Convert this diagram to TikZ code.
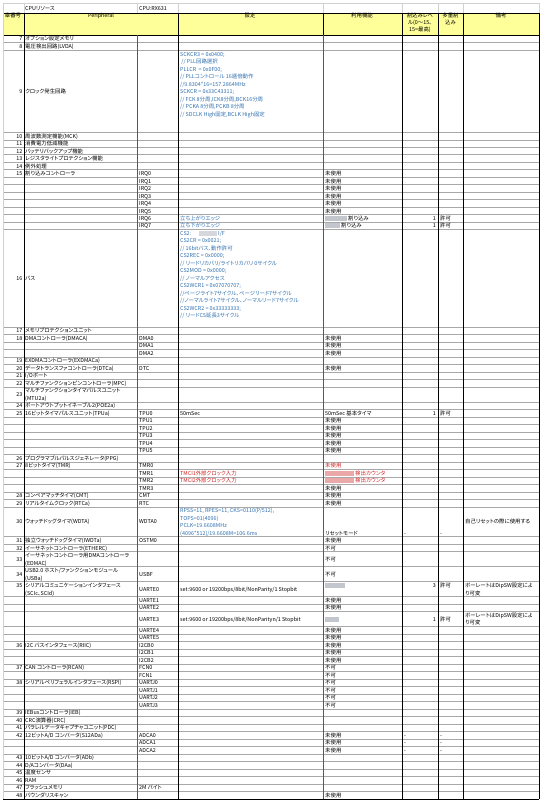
\documentclass[tikz,border=0pt]{standalone}
\usepackage{fontspec}
\setmainfont{Noto Sans CJK JP}[RawFeature=+palt]
\definecolor{setblue}{HTML}{2F6FAF}
\definecolor{redtxt}{HTML}{D02020}
\definecolor{hdryellow}{HTML}{FFFF99}
\definecolor{gridgray}{HTML}{A8A8A8}
\definecolor{blurgray}{HTML}{C4C6CE}
\definecolor{blurpink}{HTML}{EBA8A8}
\tikzset{
  txt/.style={inner sep=0pt, font=\fontsize{5.4}{6}\selectfont},
  bluetxt/.style={txt, text=setblue},
  redstyle/.style={txt, text=redtxt},
  hline/.style={draw=gridgray, line width=0.7pt},
  vline/.style={draw=black, line width=0.8pt},
  vgray/.style={draw=black!65, line width=0.8pt},
  lightline/.style={draw=black!18, line width=0.5pt},
}
\def\P{7.49}
\newcounter{nn}
\newcommand\txtL[4][txt]{\stepcounter{nn}\node[#1,anchor=base west] (t\arabic{nn}) at (#2,{35+(#3+0.5)*\P+2}) {#4};}
\newcommand\txtR[4][txt]{\stepcounter{nn}\node[#1,anchor=base east] (t\arabic{nn}) at (#2,{35+(#3+0.5)*\P+2}) {#4};}
\newcommand\blurbox[4][blurgray]{\fill[#1] (#2,{35+(#4+0.5)*\P-2.6}) rectangle (#3,{35+(#4+0.5)*\P+2.4});}
\begin{document}
\begin{tikzpicture}[x=1pt,y=-1pt]
\useasboundingbox (0,0) rectangle (543,800);
% top row light grid
\foreach \x in {3,24,137,178,323,402,438,463,539} \draw[lightline] (\x,3) -- (\x,13);
\draw[lightline] (3,3) -- (539,3);
% header
\fill[hdryellow] (3,13) rectangle (539,35);
\draw[vline] (3,13) -- (539,13);
\draw[vline] (3,35) -- (539,35);
\foreach \x in {24,178,323,402,438,463,539} \draw[vline] (\x,13) -- (\x,35);
\draw[lightline] (3,13) -- (3,35);
% horizontal grid lines
\foreach \u in {1,2,13,14,15,16,17,18,19,20,21,22,23,24,25,26,39,40,41,42,43,44,45,46,47,49,50,51,52,53,54,55,56,57,58,59,60,61,62,63,67,68,69,71,73,75,76,77,79,80,81,82,83,84,85,86,87,88,89,90,91,92,93,94,95,96,97,98,99,100,101}
  \draw[hline] (3,{35+\u*\P}) -- (539,{35+\u*\P});
\draw[vline] (3,{35+102*\P}) -- (539,{35+102*\P});
% vertical lines in data area
\draw[lightline] (3,35) -- (3,{35+102*\P});
\foreach \x in {24,178,402,438,463,539} \draw[vline] (\x,35) -- (\x,{35+102*\P});
\foreach \x in {137,323} \draw[vgray] (\x,35) -- (\x,{35+102*\P});
% top row texts
\node[txt,anchor=base west] (cpures) at (25,10.5) {CPUリソース};
\node[txt,anchor=base west] (cpuname) at (139,10.5) {CPU:RX631};
% header texts
\node[txt,anchor=base] (h1) at (13,18) {章番号};
\node[txt,anchor=base] (h2) at (101,18) {Peripheral};
\node[txt,anchor=base] (h3) at (250,18) {設定};
\node[txt,anchor=base] (h4) at (362,18) {利用機能};
\node[txt,anchor=base] (h5a) at (420,17.5) {割込みレベ};
\node[txt,anchor=base] (h5b) at (420,24.5) {ル(0～15、};
\node[txt,anchor=base] (h5c) at (420,31.5) {15=最高)};
\node[txt,anchor=base] (h6a) at (450.5,17.5) {多重割};
\node[txt,anchor=base] (h6b) at (450.5,24.5) {込み};
\node[txt,anchor=base] (h7) at (501,18) {備考};
% row 7, 8
\txtR{22.5}{0}{7}\txtL{25}{0}{オプション設定メモリ}
\txtR{22.5}{1}{8}\txtL{25}{1}{電圧検出回路(LVDA)}
% row 9
\txtR{22.5}{7}{9}\txtL{25}{7}{クロック発生回路}
\txtL[bluetxt]{180}{2.1}{SCKCR3 = 0x0400;}
\txtL[bluetxt]{180}{3.1}{\ // PLL回路選択}
\txtL[bluetxt]{180}{4.1}{PLLCR\ \ = 0x0F00;}
\txtL[bluetxt]{180}{5.1}{// PLLコントロール 16逓倍動作}
\txtL[bluetxt]{180}{6.1}{//9.8304*16=157.2864MHz}
\txtL[bluetxt]{180}{7.1}{SCKCR = 0x33C43311;}
\txtL[bluetxt]{180}{8.1}{// FCK 8分周,ICK8分周,BCK16分周}
\txtL[bluetxt]{180}{9.1}{// PCKA 8分周,PCKB 8分周}
\txtL[bluetxt]{180}{10.1}{// SDCLK High固定,BCLK High固定}
% rows 10-14
\txtR{22.5}{13}{10}\txtL{25}{13}{周波数測定機能(MCK)}
\txtR{22.5}{14}{11}\txtL{25}{14}{消費電力低減機能}
\txtR{22.5}{15}{12}\txtL{25}{15}{バッテリバックアップ機能}
\txtR{22.5}{16}{13}\txtL{25}{16}{レジスタライトプロテクション機能}
\txtR{22.5}{17}{14}\txtL{25}{17}{例外処理}
% row 15
\txtR{22.5}{18}{15}\txtL{25}{18}{割り込みコントローラ}
\foreach \i in {0,...,7} {\txtL{139}{18+\i}{IRQ\i}}
\foreach \i in {0,...,5} {\txtL{325}{18+\i}{未使用}}
\txtL[bluetxt]{180}{24}{立ち上がりエッジ}
\blurbox{325}{347}{24}\txtL{348}{24}{割り込み}
\txtR{436}{24}{1}\txtL{440}{24}{許可}
\txtL[bluetxt]{180}{25}{立ち下がりエッジ}
\blurbox{325}{340}{25}\txtL{341}{25}{割り込み}
\txtR{436}{25}{1}\txtL{440}{25}{許可}
% row 16
\txtR{22.5}{32}{16}\txtL{25}{32}{バス}
\txtL[bluetxt]{180}{26}{CS2:}\blurbox[blurgray!70]{199}{217}{26}\txtL[bluetxt]{218}{26}{I/F}
\txtL[bluetxt]{180}{27}{CS2CR = 0x0021;}
\txtL[bluetxt]{180}{28}{// 16bitバス、動作許可}
\txtL[bluetxt]{180}{29}{CS2REC = 0x0000;}
\txtL[bluetxt]{180}{30}{// リードリカバリ/ライトリカバリ 0サイクル}
\txtL[bluetxt]{180}{31}{CS2MOD = 0x0000;}
\txtL[bluetxt]{180}{32}{// ノーマルアクセス}
\txtL[bluetxt]{180}{33}{CS2WCR1 = 0x07070707;}
\txtL[bluetxt]{180}{34}{//ページライト7サイクル、ページリード7サイクル}
\txtL[bluetxt]{180}{35}{//ノーマルライト7サイクル、ノーマルリード7サイクル}
\txtL[bluetxt]{180}{36}{CS2WCR2 = 0x33333333;}
\txtL[bluetxt]{180}{37}{// リードCS延長3サイクル}
% row 17-24
\txtR{22.5}{39}{17}\txtL{25}{39}{メモリプロテクションユニット}
\txtR{22.5}{40}{18}\txtL{25}{40}{DMAコントローラ(DMACA)}
\foreach \i in {0,1,2} {\txtL{139}{40+\i}{DMA\i}\txtL{325}{40+\i}{未使用}}
\txtR{22.5}{43}{19}\txtL{25}{43}{EXDMAコントローラ(EXDMACa)}
\txtR{22.5}{44}{20}\txtL{25}{44}{データトランスファコントローラ(DTCa)}
\txtL{139}{44}{DTC}\txtL{325}{44}{未使用}
\txtR{22.5}{45}{21}\txtL{25}{45}{I/Oポート}
\txtR{22.5}{46}{22}\txtL{25}{46}{マルチファンクションピンコントローラ(MPC)}
\txtR{22.5}{47.5}{23}\txtL{25}{47}{マルチファンクションタイマパルスユニット}\txtL{25}{48}{(MTU2a)}
\txtR{22.5}{49}{24}\txtL{25}{49}{ポートアウトプットイネーブル2(POE2a)}
% row 25
\txtR{22.5}{50}{25}\txtL{25}{50}{16ビットタイマパルスユニット(TPUa)}
\foreach \i in {0,...,5} {\txtL{139}{50+\i}{TPU\i}}
\txtL{180}{50}{50mSec}\txtL{325}{50}{50mSec 基本タイマ}
\txtR{436}{50}{1}\txtL{440}{50}{許可}
\foreach \i in {1,...,5} {\txtL{325}{50+\i}{未使用}}
\txtR{22.5}{56}{26}\txtL{25}{56}{プログラマブルパルスジェネレータ(PPG)}
% row 27
\txtR{22.5}{57}{27}\txtL{25}{57}{8ビットタイマ(TMR)}
\foreach \i in {0,...,3} {\txtL{139}{57+\i}{TMR\i}}
\txtL[redstyle]{325}{57}{未使用}
\txtL[redstyle]{180}{58}{TMCI1外部クロック入力}
\blurbox[blurpink]{325}{354}{58}\txtL[redstyle]{355}{58}{検出カウンタ}
\txtL[redstyle]{180}{59}{TMCI2外部クロック入力}
\blurbox[blurpink]{325}{354}{59}\txtL[redstyle]{355}{59}{検出カウンタ}
\txtL{325}{60}{未使用}
\txtR{22.5}{61}{28}\txtL{25}{61}{コンペアマッチタイマ(CMT)}\txtL{139}{61}{CMT}\txtL{325}{61}{未使用}
\txtR{22.5}{62}{29}\txtL{25}{62}{リアルタイムクロック(RTCa)}\txtL{139}{62}{RTC}\txtL{325}{62}{未使用}
% row 30
\txtR{22.5}{64.5}{30}\txtL{25}{64.5}{ウォッチドッグタイマ(WDTA)}\txtL{139}{64.5}{WDTA0}
\txtL[bluetxt]{180}{63}{RPSS=11, RPES=11, CKS=0110(P/512),}
\txtL[bluetxt]{180}{64}{TOPS=01(4096)}
\txtL[bluetxt]{180}{65}{PCLK=19.6608MHz}
\txtL[bluetxt]{180}{66}{(4096*512)/19.6608M=106.6ms}
\txtL{325}{66}{リセットモード}\txtL{404}{66}{-}\txtL{440}{66}{-}
\txtL{465}{64.5}{自己リセットの際に使用する}
% rows 31-34
\txtR{22.5}{67}{31}\txtL{25}{67}{独立ウォッチドッグタイマ(IWDTa)}\txtL{139}{67}{OSTM0}\txtL{325}{67}{未使用}
\txtR{22.5}{68}{32}\txtL{25}{68}{イーサネットコントローラ(ETHERC)}\txtL{325}{68}{不可}
\txtR{22.5}{69.5}{33}\txtL{25}{69}{イーサネットコントローラ用DMAコントローラ}\txtL{25}{70}{(EDMAC)}\txtL{325}{69.5}{不可}
\txtR{22.5}{71.5}{34}\txtL{25}{71}{USB2.0 ホスト/ファンクションモジュール}\txtL{25}{72}{(USBa)}\txtL{139}{71.5}{USBF}\txtL{325}{71.5}{不可}
% row 35
\txtR{22.5}{73}{35}\txtL{25}{73}{シリアルコミュニケーションインタフェース}\txtL{25}{74}{(SCIc、SCId)}
\txtL{139}{73.5}{UARTE0}\txtL{180}{73.5}{set:9600 or 19200bps/8bit/NonParity/1 Stopbit}
\blurbox{325}{345}{73}\txtR{436}{73}{3}\txtL{440}{73}{許可}
\txtL{465}{73}{ボーレートはDipSW設定によ}\txtL{465}{74}{り可変}
\txtL{139}{75}{UARTE1}\txtL{325}{75}{未使用}
\txtL{139}{76}{UARTE2}\txtL{325}{76}{未使用}
\txtL{139}{77.5}{UARTE3}\txtL{180}{77.5}{set:9600 or 19200bps/8bit/NonParityn/1 Stopbit}
\blurbox{325}{339}{77.5}\txtR{436}{77.5}{1}\txtL{440}{77.5}{許可}
\txtL{465}{77}{ボーレートはDipSW設定によ}\txtL{465}{78}{り可変}
\txtL{139}{79}{UARTE4}\txtL{325}{79}{未使用}
\txtL{139}{80}{UARTE5}\txtL{325}{80}{未使用}
% rows 36-38
\txtR{22.5}{81}{36}\txtL{25}{81}{I2C バスインタフェース(RIIC)}
\foreach \i in {0,1,2} {\txtL{139}{81+\i}{I2CB\i}\txtL{325}{81+\i}{未使用}}
\txtR{22.5}{84}{37}\txtL{25}{84}{CAN コントローラ(RCAN)}
\foreach \i in {0,1} {\txtL{139}{84+\i}{FCN\i}\txtL{325}{84+\i}{不可}}
\txtR{22.5}{86}{38}\txtL{25}{86}{シリアルペリフェラルインタフェース(RSPI)}
\foreach \i in {0,...,3} {\txtL{139}{86+\i}{UARTJ\i}\txtL{325}{86+\i}{不可}}
% rows 39-48
\txtR{22.5}{90}{39}\txtL{25}{90}{IEBusコントローラ(IEB)}
\txtR{22.5}{91}{40}\txtL{25}{91}{CRC演算器(CRC)}
\txtR{22.5}{92}{41}\txtL{25}{92}{パラレルデータキャプチャユニット(PDC)}
\txtR{22.5}{93}{42}\txtL{25}{93}{12ビットA/D コンバータ(S12ADa)}
\foreach \i in {0,1,2} {\txtL{139}{93+\i}{ADCA\i}\txtL{325}{93+\i}{未使用}\txtL{404}{93+\i}{-}\txtL{440}{93+\i}{-}}
\txtR{22.5}{96}{43}\txtL{25}{96}{10ビットA/D コンバータ(ADb)}
\txtR{22.5}{97}{44}\txtL{25}{97}{D/Aコンバータ(DAa)}
\txtR{22.5}{98}{45}\txtL{25}{98}{温度センサ}
\txtR{22.5}{99}{46}\txtL{25}{99}{RAM}
\txtR{22.5}{100}{47}\txtL{25}{100}{フラッシュメモリ}\txtL{139}{100}{2M バイト}
\txtR{22.5}{101}{48}\txtL{25}{101}{バウンダリスキャン}\txtL{325}{101}{未使用}
\end{tikzpicture}
\end{document}
